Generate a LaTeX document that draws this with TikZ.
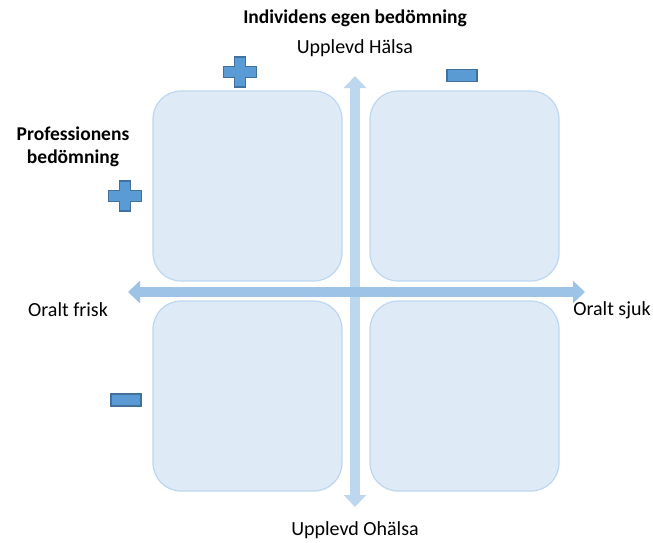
\documentclass[tikz,border=0pt]{standalone}
\usepackage{fontspec}
\setmainfont{Carlito}
\usetikzlibrary{arrows.meta, positioning}
\definecolor{quadfill}{HTML}{DEEBF7}
\definecolor{quadedge}{HTML}{BDD7EE}
\definecolor{axisvert}{HTML}{BDD7EE}
\definecolor{axishor}{HTML}{9DC3E6}
\definecolor{signfill}{HTML}{5B9BD5}
\definecolor{signedge}{HTML}{41719C}
\tikzstyle{quadrant} = [draw=quadedge, fill=quadfill, line width=1.2pt, rounded corners=28pt, minimum width=189pt, minimum height=190pt, inner sep=0pt]
\tikzstyle{axis} = [line width=10pt, {Triangle[width=22pt, length=12pt]}-{Triangle[width=22pt, length=12pt]}]
\tikzstyle{label} = [font=\fontsize{20}{23}\selectfont, inner sep=0pt]
\tikzstyle{heading} = [font=\bfseries\fontsize{19.5}{22.5}\selectfont, inner sep=0pt, align=center]
\tikzstyle{sign} = [draw=signedge, fill=signfill, line width=1.5pt, line join=miter]

\begin{document}
\begin{tikzpicture}[x=1pt, y=-1pt]
					\useasboundingbox (0, 0) rectangle (653, 543);

					\node (QuadTL) [quadrant] at (247.5, 186) {};
					\node (QuadTR) [quadrant] at (464.5, 186) {};
					\node (QuadBL) [quadrant] at (247.5, 396) {};
					\node (QuadBR) [quadrant] at (464.5, 396) {};

					\coordinate (UpTip) at (355, 76);
					\coordinate (DownTip) at (355, 507);
					\coordinate (LeftTip) at (128, 292);
					\coordinate (RightTip) at (585, 292);

					\draw [axis, draw=axisvert, fill=axisvert] (DownTip) -- (UpTip);
					\draw [axis, draw=axishor, fill=axishor] (LeftTip) -- (RightTip);

					\node (Individ) [heading] at (355, 18) {Individens egen bedömning};
					\node (Halsa) [label] at (355, 48) {Upplevd Hälsa};
					\node (Ohalsa) [label] at (355, 530) {Upplevd Ohälsa};
					\node (Frisk) [label] at (68, 310) {Oralt frisk};
					\node (Sjuk) [label] at (612, 310) {Oralt sjuk};
					\node (Profession) [heading] at (73, 147) {Professionens\\bedömning};

					% plus signs
					\foreach \cx/\cy in {240/72, 125/196}
						\draw [sign] (\cx, \cy) ++(-5.5, -15) -- ++(11, 0) -- ++(0, 9.5) -- ++(11, 0) -- ++(0, 11) -- ++(-11, 0) -- ++(0, 9.5) -- ++(-11, 0) -- ++(0, -9.5) -- ++(-11, 0) -- ++(0, -11) -- ++(11, 0) -- cycle;

					% minus signs
					\foreach \cx/\cy in {462/75.5, 126/400}
						\draw [sign] (\cx - 15, \cy - 6) rectangle (\cx + 15, \cy + 6);

				\end{tikzpicture}
\end{document}
